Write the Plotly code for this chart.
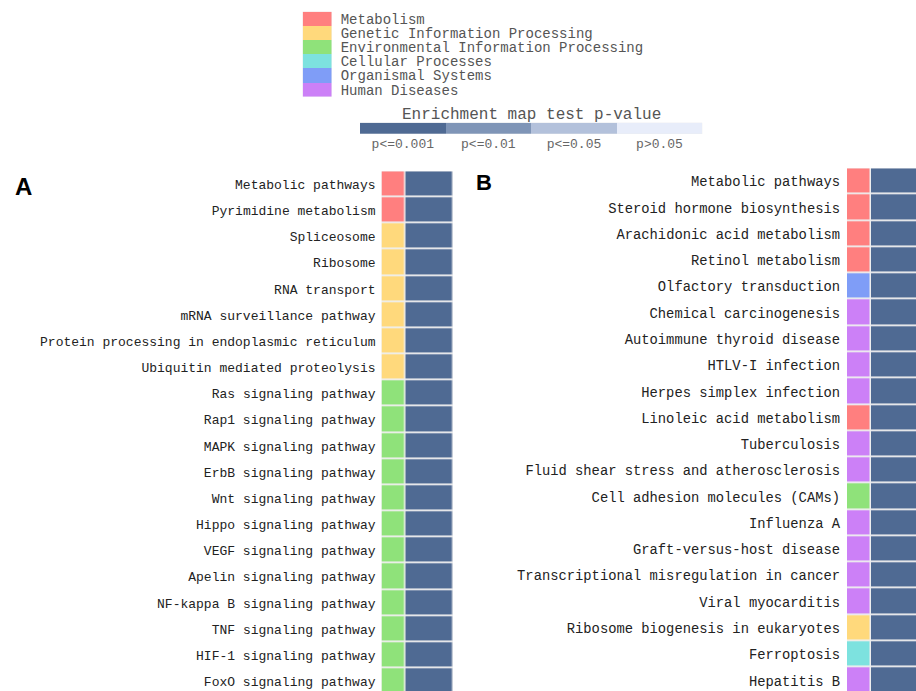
import plotly.graph_objects as go

# ---------------- data ----------------
class_names = ["Metabolism", "Genetic Information Processing", "Environmental Information Processing",
               "Cellular Processes", "Organismal Systems", "Human Diseases"]
class_colors = ["#FF7F7F", "#FFD97C", "#8FE27A", "#7DE2DF", "#7F9DF7", "#CC80F7"]

p_levels = ["p<=0.001", "p<=0.01", "p<=0.05", "p>0.05"]
p_colors = ["#4F6A93", "#7F95B7", "#B3C1DB", "#E8EDFA"]

a_labels = ["Metabolic pathways", "Pyrimidine metabolism", "Spliceosome", "Ribosome", "RNA transport",
            "mRNA surveillance pathway", "Protein processing in endoplasmic reticulum",
            "Ubiquitin mediated proteolysis", "Ras signaling pathway", "Rap1 signaling pathway",
            "MAPK signaling pathway", "ErbB signaling pathway", "Wnt signaling pathway",
            "Hippo signaling pathway", "VEGF signaling pathway", "Apelin signaling pathway",
            "NF-kappa B signaling pathway", "TNF signaling pathway", "HIF-1 signaling pathway",
            "FoxO signaling pathway"]
a_class = [0, 0, 1, 1, 1, 1, 1, 1, 2, 2, 2, 2, 2, 2, 2, 2, 2, 2, 2, 2]
a_pval = [0] * 20

b_labels = ["Metabolic pathways", "Steroid hormone biosynthesis", "Arachidonic acid metabolism",
            "Retinol metabolism", "Olfactory transduction", "Chemical carcinogenesis",
            "Autoimmune thyroid disease", "HTLV-I infection", "Herpes simplex infection",
            "Linoleic acid metabolism", "Tuberculosis", "Fluid shear stress and atherosclerosis",
            "Cell adhesion molecules (CAMs)", "Influenza A", "Graft-versus-host disease",
            "Transcriptional misregulation in cancer", "Viral myocarditis",
            "Ribosome biogenesis in eukaryotes", "Ferroptosis", "Hepatitis B"]
b_class = [0, 0, 0, 0, 4, 5, 5, 5, 5, 0, 5, 5, 2, 5, 5, 5, 5, 1, 3, 5]
b_pval = [0] * 20

# ---------------- helpers ----------------
PAGE_W, PAGE_H = 916, 691
W, H = PAGE_W, PAGE_H
all_colors = class_colors + p_colors
n = len(all_colors)
cscale = []
for i, c in enumerate(all_colors):
    cscale.append([i / n, c])
    cscale.append([(i + 1) / n, c])
NP = len(class_colors)


def px_x(v):
    return v / W


def px_y(v):
    return 1 - v / H


mono = "Liberation Mono, DejaVu Sans Mono, monospace"

fig = go.Figure()


def panel(labels, cls, pv, xa, ya):
    z = [[c, NP + p] for c, p in zip(cls, pv)]
    fig.add_trace(go.Heatmap(
        z=z, x=[0, 1, 3], y=list(range(len(labels))),
        colorscale=cscale, zmin=-0.5, zmax=n - 0.5, showscale=False,
        xgap=1.5, ygap=1.8, hoverinfo="skip", xaxis=xa, yaxis=ya))


panel(a_labels, a_class, a_pval, "x", "y")
panel(b_labels, b_class, b_pval, "x2", "y2")

# legend of classes
fig.add_trace(go.Heatmap(
    z=[[i] for i in range(NP)], x=[0], y=list(range(NP)),
    colorscale=cscale, zmin=-0.5, zmax=n - 0.5, showscale=False,
    hoverinfo="skip", xaxis="x3", yaxis="y3"))

# p-value key
fig.add_trace(go.Heatmap(
    z=[[NP + i for i in range(len(p_levels))]], x=list(range(len(p_levels))), y=[0],
    colorscale=cscale, zmin=-0.5, zmax=n - 0.5, showscale=False,
    hoverinfo="skip", xaxis="x4", yaxis="y4"))

hidden = dict(showgrid=False, zeroline=False, showticklabels=False, ticks="", showline=False,
              automargin=False)

a_top, a_pitch = 171.3, 26.16
b_top, b_pitch = 168.3, 26.28

fig.update_layout(
    width=W, height=H, margin=dict(l=0, r=0, t=0, b=0),
    paper_bgcolor="white", plot_bgcolor="#EEEEEE",
    showlegend=False,
    xaxis=dict(domain=[px_x(381.5), px_x(453)], range=[0, 3], anchor="y", **hidden),
    yaxis=dict(domain=[0, px_y(a_top)], range=[-0.5 + (PAGE_H - a_top) / a_pitch, -0.5],
               anchor="x", automargin=False,
               tickvals=list(range(len(a_labels))), ticktext=a_labels,
               showgrid=False, zeroline=False, ticks="", ticklabelstandoff=5,
               tickfont=dict(family=mono, size=13, color="#222222")),
    xaxis2=dict(domain=[px_x(847), 1], range=[0, (PAGE_W - 847) / 24.2], anchor="y2", **hidden),
    yaxis2=dict(domain=[0, px_y(b_top)], range=[-0.5 + (PAGE_H - b_top) / b_pitch, -0.5],
                anchor="x2", automargin=False,
                tickvals=list(range(len(b_labels))), ticktext=b_labels,
                showgrid=False, zeroline=False, ticks="", ticklabelstandoff=6,
                tickfont=dict(family=mono, size=13.8, color="#222222")),
    xaxis3=dict(domain=[px_x(302.7), px_x(331.7)], range=[-0.5, 0.5], anchor="y3", **hidden),
    yaxis3=dict(domain=[px_y(96.7), px_y(11.7)], range=[NP - 0.5, -0.5], side="right",
                anchor="x3", automargin=False,
                tickvals=list(range(NP)), ticktext=class_names,
                showgrid=False, zeroline=False, ticks="", ticklabelstandoff=8,
                tickfont=dict(family=mono, size=14, color="#555555")),
    xaxis4=dict(domain=[px_x(360), px_x(702.3)], range=[-0.5, len(p_levels) - 0.5],
                anchor="y4", automargin=False,
                tickvals=list(range(len(p_levels))), ticktext=p_levels,
                showgrid=False, zeroline=False, ticks="", ticklabelstandoff=0,
                tickfont=dict(family=mono, size=13, color="#666666")),
    yaxis4=dict(domain=[px_y(134), px_y(122.7)], range=[-0.5, 0.5], anchor="x4", **hidden),
)

fig.add_annotation(text="Enrichment map test p-value", x=px_x(531), y=px_y(115),
                   xref="paper", yref="paper", showarrow=False, xanchor="center", yanchor="middle",
                   font=dict(family=mono, size=16, color="#555555"))
fig.add_annotation(text="<b>A</b>", x=px_x(13), y=px_y(186), xref="paper", yref="paper",
                   showarrow=False, xanchor="left", yanchor="middle",
                   font=dict(family="Liberation Sans, Arial, sans-serif", size=24, color="black"))
fig.add_annotation(text="<b>B</b>", x=px_x(474), y=px_y(182), xref="paper", yref="paper",
                   showarrow=False, xanchor="left", yanchor="middle",
                   font=dict(family="Liberation Sans, Arial, sans-serif", size=22, color="black"))

fig.write_html("out.html", config={"displayModeBar": False},
               post_script="document.body.style.margin='0';document.body.style.overflow='hidden';")
